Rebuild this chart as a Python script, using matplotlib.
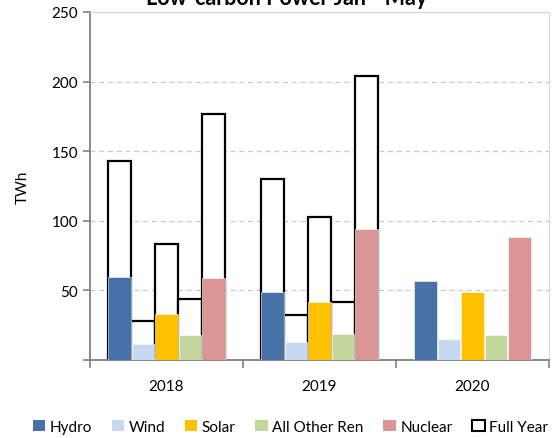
import numpy as np
import matplotlib
matplotlib.use("Agg")
import matplotlib.pyplot as plt
from matplotlib.patches import Patch

plt.rcParams['font.family'] = ['Lato', 'DejaVu Sans']

years = ["2018", "2019", "2020"]
series = ["Hydro", "Wind", "Solar", "All Other Ren", "Nuclear"]
colors = ["#4672A8", "#C6D9F1", "#FFC000", "#C3D69B", "#D99694"]

# Jan - May values, TWh
jan_may = {
    "Hydro": [59.5, 48.5, 56.5],
    "Wind": [11.5, 13, 14.8],
    "Solar": [33, 41.4, 48.6],
    "All Other Ren": [17.7, 18.7, 18],
    "Nuclear": [59, 94, 88.5],
}
# full year values, TWh (none for 2020)
full_year = {
    "Hydro": [143, 130],
    "Wind": [28.2, 32.3],
    "Solar": [83, 103],
    "All Other Ren": [43.6, 42],
    "Nuclear": [176.5, 204],
}

fig = plt.figure(figsize=(5.53, 4.39), dpi=100)
ax = fig.add_axes([0.1627, 0.1777, 0.8301, 0.7927])

x = np.arange(len(years))
width = 0.153
offsets = (np.arange(len(series)) - 2) * width

for i, name in enumerate(series):
    fy = full_year[name]
    ax.bar(x[:len(fy)] + offsets[i], fy, width, facecolor="white",
           edgecolor="black", linewidth=1.6, zorder=2)
    ax.bar(x + offsets[i], jan_may[name], width * 0.96, color=colors[i],
           edgecolor="white", linewidth=0.4, zorder=3)

ax.set_xlim(-0.5, 2.5)
ax.set_ylim(0, 250)
ax.set_yticks(range(0, 251, 50))
ax.set_yticklabels(["", "50", "100", "150", "200", "250"])
ax.set_xticks(x)
ax.set_xticklabels(years)
ax.set_xticks([-0.5, 0.5, 1.5, 2.5], minor=True)
ax.tick_params(axis="x", which="major", length=0, pad=14, labelsize=11)
ax.tick_params(axis="x", which="minor", length=6, color="#808080", width=1.2)
ax.tick_params(axis="y", length=5, color="#808080", width=1.2, labelsize=11)
ax.yaxis.grid(True, linestyle=(0, (4, 3)), color="#C8C8C8", linewidth=0.9, zorder=0)
ax.set_axisbelow(True)

for side in ["left", "bottom"]:
    ax.spines[side].set_color("#808080")
    ax.spines[side].set_linewidth(1.3)
for side in ["top", "right"]:
    ax.spines[side].set_color("#D9D9D9")
    ax.spines[side].set_linewidth(0.9)

ax.set_ylabel("TWh", fontsize=11, labelpad=16)
fig.text(0.519, 0.9886, "Low-carbon Power Jan - May", ha="center", va="baseline",
         fontsize=15.5, fontweight="bold")

handles = [Patch(facecolor=c, edgecolor="none", label=s) for s, c in zip(series, colors)]
handles.append(Patch(facecolor="white", edgecolor="black", linewidth=1.5, label="Full Year"))
fig.legend(handles=handles, loc="lower center", bbox_to_anchor=(0.525, -0.022), ncol=6,
           frameon=False, fontsize=11, handlelength=0.8, handleheight=0.8,
           handletextpad=0.3, columnspacing=1.3)

fig.savefig("out.png", dpi=100)
